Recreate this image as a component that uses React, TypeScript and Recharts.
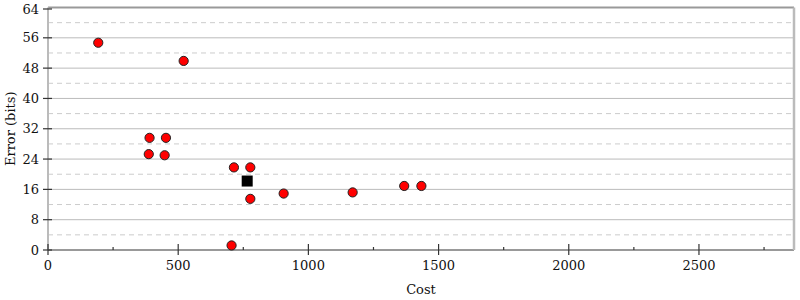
import { ScatterChart, Scatter, XAxis, YAxis, ReferenceLine } from "recharts"

// measured points (cost, error in bits)
const costs = [193, 521, 390, 453, 387, 448, 714, 777, 777, 705, 905, 1170, 1368, 1434]
const errors = [54.7, 49.9, 29.6, 29.6, 25.3, 25.0, 21.8, 21.8, 13.5, 1.2, 14.9, 15.2, 16.9, 16.9]

// reference point (black square)
const refCosts = [765]
const refErrors = [18.2]

const xTicks = [0, 250, 500, 750, 1000, 1250, 1500, 1750, 2000, 2250, 2500, 2750]
const yTicks = [0, 4, 8, 12, 16, 20, 24, 28, 32, 36, 40, 44, 48, 52, 56, 60, 64]
const gridLines = [4, 8, 12, 16, 20, 24, 28, 32, 36, 40, 44, 48, 52, 56, 60]

const points = costs.map((c, i) => ({ cost: c, error: errors[i] }))
const refPoints = refCosts.map((c, i) => ({ cost: c, error: refErrors[i] }))

const FONT = "'DejaVu Serif', serif"
const TEXT = "#111"
const FS = 13

function LeftTick(props: any) {
  const { x, y, payload } = props
  const major = payload.value % 8 === 0
  return (
    <g>
      <line x1={major ? x + 4 : x + 5} x2={major ? x + 13 : x + 10} y1={y} y2={y} stroke="#333" strokeWidth={1.2} />
      {major && (
        <text x={x} y={y} dy={4.5} textAnchor="end" fontSize={FS} fontFamily={FONT} fill={TEXT}>
          {payload.value}
        </text>
      )}
    </g>
  )
}

function RightTick(props: any) {
  const { x, y, payload } = props
  const major = payload.value % 8 === 0
  return <line x1={major ? x - 6 : x - 3} x2={x} y1={y} y2={y} stroke="#333" strokeWidth={1.2} />
}

function BottomTick(props: any) {
  const { x, y, payload } = props
  const major = payload.value % 500 === 0
  return (
    <g>
      <line x1={x} x2={x} y1={major ? y - 6 : y - 3} y2={major ? y + 5 : y} stroke="#333" strokeWidth={1.2} />
      {major && (
        <text x={x} y={y + 20} textAnchor="middle" fontSize={FS} fontFamily={FONT} fill={TEXT}>
          {payload.value}
        </text>
      )}
    </g>
  )
}

function Dot(props: any) {
  const { cx, cy } = props
  return <circle cx={cx} cy={cy} r={4.6} fill="#ff0000" stroke="#222" strokeWidth={1} />
}

function Square(props: any) {
  const { cx, cy } = props
  return <rect x={cx - 5.5} y={cy - 5.5} width={11} height={11} fill="#000" />
}

function YLabel(props: any) {
  const { viewBox } = props
  const cy = viewBox.y + viewBox.height / 2
  return (
    <text x={10} y={cy} transform={`rotate(-90, 10, ${cy})`} textAnchor="middle" dominantBaseline="central" fontSize={FS} fontFamily={FONT} fill={TEXT}>
      Error (bits)
    </text>
  )
}

export default function App() {
  return (
    <div style={{ position: "absolute", left: 0, top: 0 }}>
      <ScatterChart width={800} height={300} margin={{ top: 7.5, right: 0, bottom: 0, left: 0 }}>
        <XAxis
          type="number"
          dataKey="cost"
          domain={[0, 2865]}
          ticks={xTicks}
          allowDataOverflow
          height={50}
          tickSize={0}
          tickMargin={0}
          tickLine={false}
          tick={<BottomTick />}
          axisLine={{ stroke: "#999", strokeWidth: 2 }}
          label={{ value: "Cost", position: "insideBottom", offset: 6, fontSize: FS, fontFamily: FONT, fill: TEXT }}
        />
        <YAxis
          type="number"
          dataKey="error"
          domain={[0, 64]}
          ticks={yTicks}
          width={48}
          tickSize={0}
          tickMargin={9}
          tickLine={false}
          tick={<LeftTick />}
          axisLine={{ stroke: "#bbb", strokeWidth: 2 }}
          label={<YLabel />}
        />
        <YAxis
          yAxisId="r"
          orientation="right"
          type="number"
          domain={[0, 64]}
          ticks={yTicks}
          width={6}
          tickSize={0}
          tickMargin={0}
          tickLine={false}
          tick={<RightTick />}
          axisLine={{ stroke: "#bbb", strokeWidth: 2.5 }}
        />
        {gridLines.map((v) => (
          <ReferenceLine
            key={v}
            y={v}
            stroke={v % 8 === 0 ? "#bbb" : "#ccc"}
            strokeWidth={1}
            strokeDasharray={v % 8 === 0 ? undefined : "5 4"}
          />
        ))}
        <ReferenceLine y={64} stroke="#999" strokeWidth={2} />
        <Scatter data={points} shape={<Dot />} isAnimationActive={false} />
        <Scatter data={refPoints} shape={<Square />} isAnimationActive={false} />
      </ScatterChart>
    </div>
  )
}
